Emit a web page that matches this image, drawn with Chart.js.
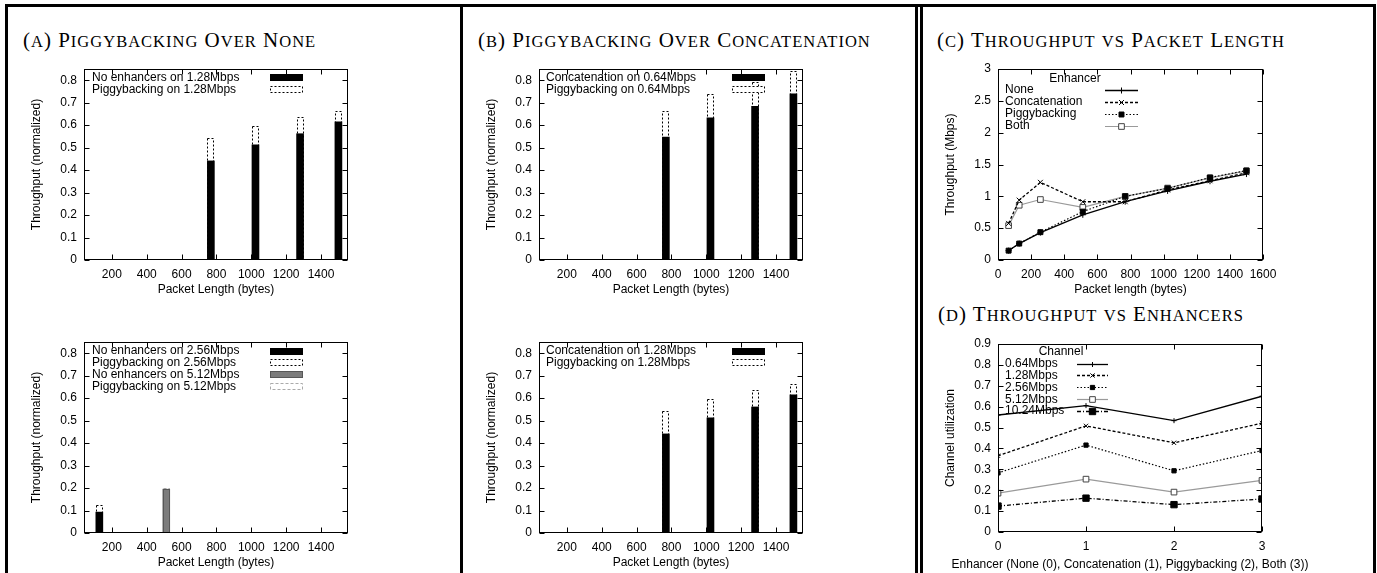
<!DOCTYPE html>
<html><head><meta charset="utf-8">
<script src="https://cdn.jsdelivr.net/npm/chart.js@4/dist/chart.umd.min.js"></script>
<style>
html,body{margin:0;padding:0;background:#fff}
body{width:1377px;height:573px;overflow:hidden;position:relative}
canvas{position:absolute;display:block}
.rule{position:absolute;background:#000;z-index:5}
.ttl{position:absolute;font-family:"Liberation Serif","Times New Roman",serif;white-space:nowrap;line-height:1;color:#000;font-size:21px;letter-spacing:1px}
.ttl .s{font-size:16.5px}
.axt{position:absolute;font-family:"Liberation Sans",Arial,Helvetica,sans-serif;font-size:12px;line-height:14px;color:#000;white-space:nowrap;text-align:center}
</style></head><body>
<div class="rule" style="left:5px;top:4px;width:1371px;height:3px"></div>
<div class="rule" style="left:5px;top:4px;width:3px;height:569px"></div>
<div class="rule" style="left:460px;top:4px;width:3px;height:569px"></div>
<div class="rule" style="left:915px;top:4px;width:3px;height:569px"></div>
<div class="rule" style="left:920px;top:4px;width:3px;height:569px"></div>
<div class="rule" style="left:1373px;top:4px;width:3px;height:569px"></div>
<div id="tA" class="ttl"></div><div id="tB" class="ttl"></div><div id="tC" class="ttl"></div><div id="tD" class="ttl"></div>
<canvas id="cA1"></canvas><canvas id="cA2"></canvas><canvas id="cB1"></canvas><canvas id="cB2"></canvas><canvas id="cC"></canvas><canvas id="cD"></canvas>
<div id="dXTitle" class="axt"></div>
<script>
// ---------------- DATA ----------------
const barLengths = [768, 1024, 1280, 1500];
const noneOn128 = [0.441, 0.513, 0.562, 0.615];
const piggyOn128 = [0.543, 0.598, 0.635, 0.664];
const len256 = [128];
const noneOn256 = [0.093];
const piggyOn256 = [0.125];
const len512 = [512];
const noneOn512 = [0.195];
const piggyOn512 = [0.2];
const concatOn064 = [0.547, 0.633, 0.684, 0.740];
const piggyOnConcat064 = [0.665, 0.738, 0.79, 0.842];
const concatOn128 = [0.441, 0.512, 0.561, 0.615];
const piggyOnConcat128 = [0.542, 0.597, 0.636, 0.662];

const lineLengths = [64, 128, 256, 512, 768, 1024, 1280, 1500];
const thrNone = [0.147, 0.258, 0.43, 0.71, 0.916, 1.085, 1.237, 1.35];
const thrConcat = [0.575, 0.94, 1.22, 0.915, 0.915, 1.10, 1.245, 1.37];
const thrPiggy = [0.147, 0.258, 0.437, 0.76, 1.0, 1.125, 1.295, 1.405];
const thrBoth = [0.54, 0.86, 0.95, 0.826, 1.0, 1.13, 1.29, 1.40];

const enhancers = [0, 1, 2, 3];
const util064 = [0.560, 0.605, 0.533, 0.650];
const util128 = [0.365, 0.508, 0.427, 0.521];
const util256 = [0.283, 0.416, 0.293, 0.390];
const util512 = [0.186, 0.253, 0.191, 0.247];
const util1024 = [0.124, 0.162, 0.131, 0.158];

const barXTicks = [200, 400, 600, 800, 1000, 1200, 1400];
const barYTicks = [0, 0.1, 0.2, 0.3, 0.4, 0.5, 0.6, 0.7, 0.8];
const cXTicks = [0, 200, 400, 600, 800, 1000, 1200, 1400, 1600];
const cYTicks = [0, 0.5, 1, 1.5, 2, 2.5, 3];
const dXTicks = [0, 1, 2, 3];
const dYTicks = [0, 0.1, 0.2, 0.3, 0.4, 0.5, 0.6, 0.7, 0.8, 0.9];

// ---------------- SETUP ----------------
const FONT = "'Liberation Sans', Arial, Helvetica, sans-serif";
Chart.defaults.font.family = FONT;
Chart.defaults.font.size = 12;
Chart.defaults.color = '#000';

const Y_W = 64, PAD_T = 12, PAD_R = 20, X_H = 40;

function titleHTML(id, text, x, baseline) {
  const el = document.getElementById(id);
  let html = '';
  for (const ch of text) {
    if (ch >= 'a' && ch <= 'z') html += '<span class="s">' + ch.toUpperCase() + '</span>';
    else html += ch;
  }
  el.innerHTML = html;
  el.style.left = x + 'px';
  el.style.top = (baseline - 0.8375 * 21) + 'px';
}
titleHTML('tA', '(a) Piggybacking Over None', 23, 48);
titleHTML('tB', '(b) Piggybacking Over Concatenation', 478, 48);
titleHTML('tC', '(c) Throughput vs Packet Length', 937, 48);
titleHTML('tD', '(d) Throughput vs Enhancers', 938, 322);

function place(id, L, T, R, B) {
  const cv = document.getElementById(id);
  const left = L - Y_W, top = T - PAD_T;
  cv.width = (R - L) + Y_W + PAD_R;
  cv.height = (B - T) + PAD_T + X_H;
  cv.style.left = left + 'px';
  cv.style.top = top + 'px';
  return {cv, ox: left, oy: top};
}

function scales(o) {
  return {
    x: {
      type: 'linear', min: o.xmin, max: o.xmax, bounds: 'data', offset: false,
      grid: {display: false, drawTicks: false}, border: {display: false},
      afterBuildTicks: s => { s.ticks = o.xticks.map(v => ({value: v})); },
      ticks: {padding: 7, maxRotation: 0, autoSkip: false, callback: v => String(v)},
      title: {display: o.xtitle !== null, text: o.xtitle || '', padding: {top: 0, bottom: 3}},
      afterFit: s => { s.height = X_H; s.paddingLeft = 0; s.paddingRight = 0; }
    },
    y: {
      type: 'linear', min: o.ymin, max: o.ymax, bounds: 'data',
      grid: {display: false, drawTicks: false}, border: {display: false},
      afterBuildTicks: s => { s.ticks = o.yticks.map(v => ({value: v})); },
      ticks: {padding: 7, autoSkip: false, callback: v => String(v)},
      title: {display: true, text: o.ytitle, padding: {top: 9, bottom: 0}},
      afterFit: s => { s.width = Y_W; s.paddingTop = 0; s.paddingBottom = 0; }
    }
  };
}

const frameTicks = {
  id: 'frameTicks',
  afterDatasetsDraw(chart) {
    const {ctx, chartArea: a, scales: {x, y}} = chart;
    ctx.save();
    ctx.strokeStyle = '#000'; ctx.lineWidth = 1; ctx.setLineDash([]);
    const L = Math.round(a.left) + 0.5, R = Math.round(a.right) - 0.5;
    const T = Math.round(a.top) + 0.5, B = Math.round(a.bottom) - 0.5;
    const len = 5;
    ctx.beginPath();
    x.ticks.forEach(t => {
      const px = Math.round(x.getPixelForValue(t.value)) + 0.5;
      ctx.moveTo(px, B); ctx.lineTo(px, B - len);
      ctx.moveTo(px, T); ctx.lineTo(px, T + len);
    });
    y.ticks.forEach(t => {
      const py = Math.round(y.getPixelForValue(t.value)) + 0.5;
      ctx.moveTo(L, py); ctx.lineTo(L + len, py);
      ctx.moveTo(R, py); ctx.lineTo(R - len, py);
    });
    ctx.stroke();
    ctx.strokeRect(L, T, R - L, B - T);
    ctx.restore();
  }
};

const barOutline = {
  id: 'barOutline',
  afterDatasetDraw(chart, args) {
    const ds = chart.data.datasets[args.index];
    if (!ds.outlineDash) return;
    const ctx = chart.ctx;
    ctx.save();
    ctx.strokeStyle = ds.outlineColor; ctx.lineWidth = 1; ctx.setLineDash(ds.outlineDash);
    args.meta.data.forEach(el => {
      const p = el.getProps(['x', 'y', 'base', 'width'], true);
      const l = Math.round(p.x - p.width / 2) + 0.5, r = Math.round(p.x + p.width / 2) - 0.5;
      const t = Math.round(p.y) + 0.5, b = Math.round(p.base) - 0.5;
      ctx.strokeRect(l, t, r - l, b - t);
    });
    ctx.restore();
  }
};

function drawMarker(ctx, ds, x, y) {
  const opts = {pointStyle: ds.pointStyle, radius: ds.pointRadius, borderWidth: ds.pointBorderWidth || 1, rotation: 0};
  ctx.fillStyle = ds.pointBackgroundColor; ctx.strokeStyle = ds.pointBorderColor;
  ctx.lineWidth = opts.borderWidth; ctx.setLineDash([]);
  if (Chart.helpers && Chart.helpers.drawPoint) { Chart.helpers.drawPoint(ctx, opts, x, y); return; }
  const r = opts.radius;
  ctx.beginPath();
  if (opts.pointStyle === 'rect') { const s = r * Math.SQRT1_2; ctx.rect(x - s, y - s, 2 * s, 2 * s); ctx.fill(); ctx.stroke(); }
  else if (opts.pointStyle === 'cross') { ctx.moveTo(x - r, y); ctx.lineTo(x + r, y); ctx.moveTo(x, y - r); ctx.lineTo(x, y + r); ctx.stroke(); }
  else { const s = r * Math.SQRT1_2; ctx.moveTo(x - s, y - s); ctx.lineTo(x + s, y + s); ctx.moveTo(x - s, y + s); ctx.lineTo(x + s, y - s); ctx.stroke(); }
}

const gpLegend = {
  id: 'gpLegend',
  afterDraw(chart, args, opts) {
    if (!opts || opts.x === undefined) return;
    const ctx = chart.ctx, ox = opts.ox, oy = opts.oy;
    ctx.save();
    ctx.font = '12px ' + FONT; ctx.textBaseline = 'middle'; ctx.fillStyle = '#000';
    if (opts.title) { ctx.textAlign = 'center'; ctx.fillText(opts.title, opts.titleX - ox, opts.titleY - oy); }
    ctx.textAlign = 'left';
    chart.data.datasets.forEach((ds, i) => {
      const y = opts.y0 + i * opts.dy - oy;
      ctx.fillStyle = '#000'; ctx.setLineDash([]);
      ctx.fillText(ds.label, opts.x - ox, y);
      const x1 = opts.sx1 - ox, x2 = opts.sx2 - ox;
      if (chart.config.type === 'bar') {
        const h = 7, top = Math.round(y - h / 2);
        ctx.fillStyle = ds.backgroundColor;
        ctx.fillRect(Math.round(x1), top, Math.round(x2 - x1), h);
        if (ds.outlineDash) {
          ctx.strokeStyle = ds.outlineColor; ctx.lineWidth = 1; ctx.setLineDash(ds.outlineDash);
          ctx.strokeRect(Math.round(x1) + 0.5, top + 0.5, Math.round(x2 - x1) - 1, h - 1);
        }
      } else {
        ctx.strokeStyle = ds.borderColor; ctx.lineWidth = ds.borderWidth;
        ctx.setLineDash(ds.borderDash || []);
        ctx.beginPath(); ctx.moveTo(x1, Math.round(y) + 0.5); ctx.lineTo(x2, Math.round(y) + 0.5); ctx.stroke();
        drawMarker(ctx, ds, (x1 + x2) / 2, Math.round(y) + 0.5);
      }
    });
    ctx.restore();
  }
};

function xy(xs, ys) { return xs.map((x, i) => ({x: x, y: ys[i]})); }

function solidBar(label, xs, ys, color) {
  return {label, data: xy(xs, ys), backgroundColor: color, borderWidth: 0, barThickness: 7, grouped: false};
}
function dashBar(label, xs, ys, fill, color, dash) {
  return {label, data: xy(xs, ys), backgroundColor: fill, borderWidth: 0, barThickness: 7, grouped: false, outlineColor: color, outlineDash: dash};
}

function barChart(id, L, T, R, B, datasets, leg) {
  const p = place(id, L, T, R, B);
  new Chart(p.cv, {
    type: 'bar',
    data: {datasets},
    options: {
      responsive: false, animation: false, events: [], devicePixelRatio: 1,
      layout: {padding: {top: PAD_T, right: PAD_R, left: 0, bottom: 0}},
      scales: scales({xmin: 40, xmax: 1555, xticks: barXTicks, xtitle: 'Packet Length (bytes)',
                      ymin: 0, ymax: 0.85, yticks: barYTicks, ytitle: 'Throughput (normalized)'}),
      plugins: {legend: {display: false}, tooltip: {enabled: false},
                gpLegend: Object.assign({ox: p.ox, oy: p.oy}, leg)}
    },
    plugins: [barOutline, frameTicks, gpLegend]
  });
}

barChart('cA1', 84, 69, 348, 260, [
  solidBar('No enhancers on 1.28Mbps', barLengths, noneOn128, '#000'),
  dashBar('Piggybacking on 1.28Mbps', barLengths, piggyOn128, '#fff', '#000', [2, 2])
], {x: 92, y0: 77.7, dy: 11.7, sx1: 270, sx2: 303});

barChart('cA2', 84, 342, 348, 533, [
  solidBar('No enhancers on 2.56Mbps', len256, noneOn256, '#000'),
  dashBar('Piggybacking on 2.56Mbps', len256, piggyOn256, '#fff', '#000', [2, 2]),
  dashBar('No enhancers on 5.12Mbps', len512, noneOn512, '#7c7c7c', '#333', [1, 1]),
  dashBar('Piggybacking on 5.12Mbps', len512, piggyOn512, '#fff', '#aaa', [3, 2])
], {x: 92, y0: 351, dy: 11.8, sx1: 270, sx2: 303});

barChart('cB1', 539, 69, 803, 260, [
  solidBar('Concatenation on 0.64Mbps', barLengths, concatOn064, '#000'),
  dashBar('Piggybacking on 0.64Mbps', barLengths, piggyOnConcat064, '#fff', '#000', [2, 2])
], {x: 546, y0: 77.7, dy: 11.7, sx1: 732, sx2: 765});

barChart('cB2', 539, 342, 803, 533, [
  solidBar('Concatenation on 1.28Mbps', barLengths, concatOn128, '#000'),
  dashBar('Piggybacking on 1.28Mbps', barLengths, piggyOnConcat128, '#fff', '#000', [2, 2])
], {x: 546, y0: 351, dy: 11.7, sx1: 732, sx2: 765});

function lineDs(label, xs, ys, o) {
  return Object.assign({label, data: xy(xs, ys), tension: 0, fill: false, borderColor: '#000', borderWidth: 1.3,
    pointRadius: 3, pointBorderWidth: 1, pointBorderColor: '#000', pointBackgroundColor: '#000'}, o);
}

function lineChart(id, L, T, R, B, datasets, sc, leg) {
  const p = place(id, L, T, R, B);
  new Chart(p.cv, {
    type: 'line',
    data: {datasets},
    options: {
      responsive: false, animation: false, events: [], devicePixelRatio: 1,
      layout: {padding: {top: PAD_T, right: PAD_R, left: 0, bottom: 0}},
      scales: scales(sc),
      plugins: {legend: {display: false}, tooltip: {enabled: false},
                gpLegend: Object.assign({ox: p.ox, oy: p.oy}, leg)}
    },
    plugins: [frameTicks, gpLegend]
  });
}

lineChart('cC', 998, 69, 1263, 260, [
  lineDs('None', lineLengths, thrNone, {pointStyle: 'cross', pointRadius: 3}),
  lineDs('Concatenation', lineLengths, thrConcat, {borderDash: [3, 2], pointStyle: 'crossRot', pointRadius: 3.5}),
  lineDs('Piggybacking', lineLengths, thrPiggy, {borderDash: [1.5, 2], borderWidth: 1.2, pointStyle: 'rect', pointRadius: 3.5}),
  lineDs('Both', lineLengths, thrBoth, {borderColor: '#9a9a9a', borderWidth: 1.2, pointStyle: 'rect', pointRadius: 4, pointBackgroundColor: '#fff', pointBorderColor: '#444'})
], {xmin: 0, xmax: 1600, xticks: cXTicks, xtitle: 'Packet length (bytes)', ymin: 0, ymax: 3, yticks: cYTicks, ytitle: 'Throughput (Mbps)'},
   {title: 'Enhancer', titleX: 1075, titleY: 79, x: 1005, y0: 89.5, dy: 12.1, sx1: 1105, sx2: 1138});

const dXTitleText = 'Enhancer (None (0), Concatenation (1), Piggybacking (2), Both (3))';
lineChart('cD', 998, 344, 1262, 532, [
  lineDs('0.64Mbps', enhancers, util064, {pointStyle: 'cross', pointRadius: 2.5}),
  lineDs('1.28Mbps', enhancers, util128, {borderDash: [3, 2], pointStyle: 'crossRot', pointRadius: 3}),
  lineDs('2.56Mbps', enhancers, util256, {borderDash: [1.5, 2], borderWidth: 1.2, pointStyle: 'rect', pointRadius: 3}),
  lineDs('5.12Mbps', enhancers, util512, {borderColor: '#9a9a9a', borderWidth: 1.2, pointStyle: 'rect', pointRadius: 4, pointBackgroundColor: '#fff', pointBorderColor: '#444'}),
  lineDs('10.24Mbps', enhancers, util1024, {borderDash: [4, 2, 1, 2], pointStyle: 'rect', pointRadius: 4.5})
], {xmin: 0, xmax: 3, xticks: dXTicks, xtitle: null, ymin: 0, ymax: 0.9, yticks: dYTicks, ytitle: 'Channel utilization'},
   {title: 'Channel', titleX: 1061, titleY: 352, x: 1005, y0: 363.5, dy: 11.9, sx1: 1077, sx2: 1108});

// D x-axis title is wider than the plot, so it is laid out as page text centred under the plot
const dxt = document.getElementById('dXTitle');
dxt.textContent = dXTitleText;
dxt.style.left = (1130 - 250) + 'px';
dxt.style.width = '500px';
dxt.style.top = (564 - 7) + 'px';
</script>
</body></html>
